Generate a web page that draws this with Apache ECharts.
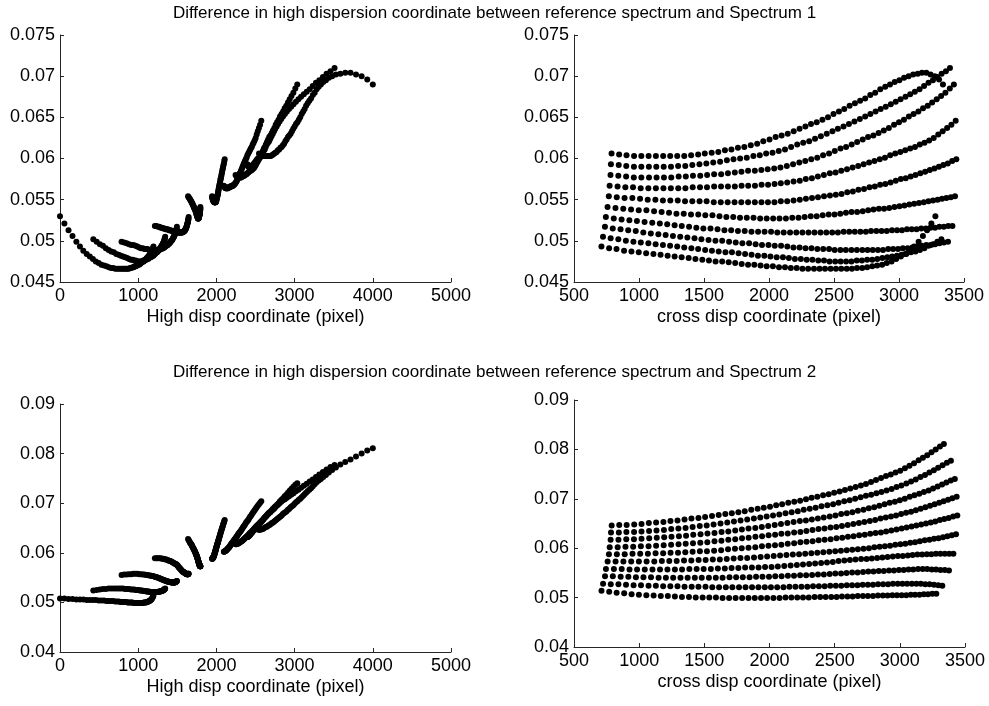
<!DOCTYPE html>
<html><head><meta charset="utf-8">
<script src="https://cdn.jsdelivr.net/npm/echarts/dist/echarts.min.js"></script>
<style>html,body{margin:0;padding:0;background:#fff}#chart{width:989px;height:706px}</style>
</head><body><div id="chart"></div>
<script>
// ---- titles and axis labels ----
const titles = [
  'Difference in high dispersion coordinate between reference spectrum and Spectrum 1',
  'Difference in high dispersion coordinate between reference spectrum and Spectrum 2'
];
const highAxisName = 'High disp coordinate (pixel)';
const crossAxisName = 'cross disp coordinate (pixel)';
const highTicks = [0, 1000, 2000, 3000, 4000, 5000];
const crossTicks = [500, 1000, 1500, 2000, 2500, 3000, 3500];
const diffTicksTop = [0.045, 0.05, 0.055, 0.06, 0.065, 0.07, 0.075];
const diffTicksBottom = [0.04, 0.05, 0.06, 0.07, 0.08, 0.09];

// ---- data: 10 sample rows (columns along the orders), one point per order ----
const crossDisp = [
[789,847,904,962,1018,1074,1130,1186,1240,1294,1348,1401,1455,1506,1559,1610,1661,1711,1761,1810,1860,1909,1956,2004,2051,2097,2144,2190,2235,2280,2323,2367,2411,2454,2496,2538,2579,2620,2661,2701,2740,2779,2817,2856,2894,2931,2967,3003,3039,3074,3109,3144,3177,3210,3243,3275,3308,3338],
[784,844,902,961,1018,1076,1133,1190,1246,1301,1356,1410,1465,1518,1571,1624,1676,1727,1778,1829,1880,1929,1978,2027,2075,2123,2170,2217,2263,2309,2354,2399,2444,2488,2530,2573,2615,2657,2699,2740,2780,2820,2859,2898,2937,2975,3012,3050,3086,3122,3158,3193,3227,3261,3294,3328,3361,3392],
[781,841,901,960,1018,1077,1135,1192,1248,1305,1360,1415,1471,1524,1578,1632,1684,1737,1788,1839,1891,1941,1990,2040,2088,2137,2185,2233,2279,2325,2371,2416,2462,2506,2550,2593,2636,2678,2721,2762,2803,2843,2883,2922,2962,3000,3038,3076,3112,3149,3185,3221,3255,3290,3324,3357,3391,3422],
[774,835,895,954,1013,1072,1130,1188,1245,1302,1357,1413,1469,1523,1578,1631,1684,1737,1789,1840,1892,1943,1993,2043,2091,2140,2189,2237,2283,2330,2376,2422,2468,2512,2556,2600,2643,2686,2728,2770,2811,2852,2892,2932,2971,3010,3048,3086,3123,3160,3196,3232,3267,3302,3336,3370,3403,3436],
[768,829,889,949,1008,1067,1126,1184,1241,1298,1354,1410,1466,1520,1575,1629,1682,1735,1787,1839,1891,1942,1992,2042,2091,2140,2189,2237,2284,2331,2377,2423,2469,2514,2558,2602,2645,2688,2731,2773,2814,2855,2895,2935,2975,3014,3052,3090,3127,3164,3201,3237,3272,3307,3341,3375,3409,3441],
[758,819,879,939,998,1057,1116,1174,1231,1288,1344,1400,1456,1510,1565,1619,1672,1725,1777,1829,1881,1932,1982,2032,2081,2130,2179,2227,2274,2321,2367,2413,2459,2504,2548,2592,2635,2678,2721,2763,2804,2845,2885,2925,2965,3004,3042,3080,3117,3154,3191,3227,3262,3297,3331,3365,3399,3431],
[745,806,866,926,984,1043,1102,1160,1217,1274,1329,1385,1441,1495,1550,1604,1657,1709,1761,1813,1865,1916,1966,2016,2064,2113,2162,2210,2257,2304,2350,2396,2441,2486,2530,2574,2617,2660,2703,2745,2785,2826,2866,2906,2946,2985,3023,3061,3098,3135,3171,3207,3242,3277,3311,3345,3379,3411],
[738,798,858,917,975,1033,1091,1149,1205,1261,1317,1372,1427,1480,1535,1588,1640,1693,1744,1795,1847,1897,1946,1996,2044,2093,2141,2188,2235,2281,2327,2372,2417,2462,2505,2549,2591,2634,2676,2718,2758,2798,2838,2877,2917,2955,2993,3030,3067,3103,3140,3176,3210,3245,3278,3312,3345,3377],
[723,782,841,899,957,1014,1072,1128,1184,1239,1294,1348,1403,1455,1509,1561,1613,1665,1715,1766,1816,1866,1915,1964,2011,2059,2107,2153,2199,2245,2290,2334,2379,2423,2466,2509,2551,2593,2634,2675,2715,2755,2794,2833,2872,2910,2947,2984,3020,3056,3092,3127,3161,3195,3228,3262,3295,3326],
[711,770,827,885,942,998,1055,1111,1166,1220,1274,1328,1382,1434,1487,1538,1589,1640,1690,1740,1790,1839,1887,1935,1982,2030,2077,2123,2168,2213,2257,2301,2346,2389,2431,2474,2515,2556,2598,2638,2677,2717,2755,2794,2832,2870,2906,2943,2978,3014,3049,3084,3117,3151,3184,3216,3249,3280]
];
const highDisp = [
[2545,2560,2575,2590,2605,2620,2635,2650,2665,2680,2695,2710,2725,2740,2755,2770,2786,2802,2818,2834,2850,2866,2882,2898,2915,2932,2949,2966,2983,3000,3018,3036,3054,3072,3091,3110,3128,3147,3167,3188,3210,3233,3257,3282,3308,3336,3366,3400,3438,3480,3528,3585,3648,3715,3785,3857,3929,4000],
[2395,2400,2404,2410,2415,2421,2428,2434,2442,2449,2457,2465,2474,2483,2492,2501,2511,2522,2532,2544,2555,2567,2579,2592,2604,2618,2631,2645,2660,2674,2689,2705,2721,2737,2753,2770,2788,2808,2829,2852,2876,2901,2928,2956,2986,3017,3049,3083,3118,3155,3193,3232,3273,3316,3362,3409,3459,3511],
[2245,2254,2262,2271,2280,2289,2298,2307,2317,2326,2336,2346,2356,2366,2376,2386,2397,2407,2418,2429,2440,2451,2462,2474,2485,2497,2508,2520,2532,2544,2557,2569,2582,2594,2607,2620,2633,2647,2661,2676,2692,2708,2724,2741,2758,2776,2795,2813,2833,2853,2873,2894,2915,2937,2960,2984,3009,3034],
[2095,2100,2105,2111,2116,2122,2127,2133,2139,2144,2150,2156,2162,2168,2175,2181,2187,2194,2200,2207,2213,2220,2227,2234,2241,2248,2255,2262,2269,2277,2284,2292,2299,2307,2315,2323,2331,2339,2348,2357,2366,2376,2386,2396,2407,2418,2429,2440,2452,2464,2476,2489,2502,2515,2529,2544,2559,2574],
[1945,1947,1949,1950,1952,1954,1956,1958,1960,1962,1964,1966,1968,1970,1972,1974,1976,1978,1980,1983,1985,1987,1989,1992,1994,1996,1999,2001,2004,2006,2009,2011,2014,2016,2019,2022,2024,2027,2030,2033,2036,2039,2043,2046,2050,2053,2057,2061,2065,2069,2073,2077,2082,2086,2091,2096,2101,2106],
[1795,1794,1794,1793,1792,1791,1790,1789,1788,1787,1786,1785,1784,1783,1781,1780,1779,1777,1776,1774,1772,1771,1769,1767,1766,1764,1762,1760,1758,1756,1754,1751,1749,1747,1745,1742,1740,1737,1734,1731,1727,1724,1720,1716,1712,1708,1703,1698,1693,1688,1683,1677,1671,1665,1659,1652,1645,1638],
[1645,1643,1641,1639,1637,1635,1632,1630,1627,1624,1621,1618,1615,1611,1608,1604,1600,1596,1592,1587,1583,1578,1574,1569,1564,1559,1553,1548,1542,1537,1531,1525,1519,1513,1506,1500,1493,1485,1477,1468,1459,1449,1439,1428,1416,1404,1392,1379,1365,1351,1336,1321,1305,1288,1271,1252,1233,1213],
[1495,1492,1489,1486,1482,1478,1474,1470,1465,1461,1456,1451,1445,1439,1434,1427,1421,1415,1408,1401,1393,1386,1378,1370,1362,1354,1345,1336,1327,1318,1308,1298,1288,1278,1268,1257,1245,1233,1219,1205,1190,1174,1157,1139,1120,1101,1080,1059,1036,1013,989,964,938,911,882,852,820,787],
[1345,1341,1337,1333,1328,1323,1318,1313,1307,1300,1294,1287,1280,1273,1265,1257,1249,1241,1232,1223,1213,1204,1194,1183,1173,1162,1150,1139,1127,1115,1103,1090,1077,1064,1050,1036,1021,1005,987,969,949,928,906,883,859,833,806,778,750,719,688,655,622,586,549,510,469,426],
[1195,1190,1185,1179,1173,1167,1160,1153,1145,1137,1129,1120,1111,1101,1091,1081,1070,1059,1048,1036,1024,1011,998,984,971,957,942,927,912,896,880,863,846,829,811,793,774,753,730,706,680,653,624,594,563,529,495,458,421,381,341,298,255,209,160,109,56,0]
];
const diffSpec1 = [
[0.0606,0.0605,0.0604,0.0603,0.0603,0.0603,0.0603,0.0603,0.0603,0.0603,0.0603,0.0604,0.0605,0.0606,0.0607,0.0608,0.0610,0.0611,0.0613,0.0614,0.0616,0.0618,0.0621,0.0623,0.0626,0.0628,0.0630,0.0633,0.0636,0.0639,0.0642,0.0644,0.0647,0.0650,0.0654,0.0657,0.0660,0.0664,0.0667,0.0670,0.0673,0.0677,0.0680,0.0684,0.0687,0.0690,0.0693,0.0695,0.0698,0.0700,0.0702,0.0703,0.0704,0.0704,0.0702,0.0700,0.0696,0.0690],
[0.0593,0.0592,0.0591,0.0590,0.0590,0.0590,0.0590,0.0590,0.0590,0.0591,0.0591,0.0592,0.0593,0.0594,0.0595,0.0596,0.0598,0.0599,0.0600,0.0601,0.0603,0.0604,0.0606,0.0607,0.0609,0.0611,0.0614,0.0617,0.0619,0.0621,0.0624,0.0627,0.0630,0.0633,0.0636,0.0639,0.0642,0.0645,0.0648,0.0651,0.0654,0.0657,0.0660,0.0663,0.0666,0.0669,0.0672,0.0675,0.0678,0.0681,0.0684,0.0688,0.0692,0.0695,0.0699,0.0703,0.0706,0.0710],
[0.0580,0.0579,0.0578,0.0577,0.0577,0.0577,0.0577,0.0577,0.0577,0.0578,0.0578,0.0579,0.0579,0.0580,0.0581,0.0581,0.0582,0.0583,0.0584,0.0585,0.0585,0.0586,0.0587,0.0588,0.0589,0.0591,0.0593,0.0595,0.0597,0.0599,0.0601,0.0604,0.0606,0.0609,0.0612,0.0614,0.0617,0.0620,0.0623,0.0626,0.0628,0.0631,0.0634,0.0637,0.0641,0.0644,0.0647,0.0651,0.0654,0.0657,0.0661,0.0664,0.0668,0.0672,0.0676,0.0680,0.0685,0.0690],
[0.0567,0.0566,0.0565,0.0565,0.0564,0.0564,0.0564,0.0564,0.0564,0.0564,0.0564,0.0565,0.0565,0.0565,0.0566,0.0566,0.0566,0.0566,0.0567,0.0567,0.0567,0.0568,0.0568,0.0569,0.0570,0.0571,0.0572,0.0573,0.0575,0.0576,0.0578,0.0580,0.0582,0.0583,0.0585,0.0587,0.0589,0.0591,0.0593,0.0595,0.0597,0.0599,0.0601,0.0604,0.0606,0.0608,0.0610,0.0612,0.0614,0.0617,0.0619,0.0622,0.0625,0.0629,0.0633,0.0637,0.0641,0.0646],
[0.0554,0.0553,0.0552,0.0552,0.0551,0.0550,0.0550,0.0549,0.0549,0.0549,0.0548,0.0548,0.0548,0.0548,0.0547,0.0547,0.0547,0.0547,0.0547,0.0547,0.0547,0.0547,0.0547,0.0547,0.0548,0.0548,0.0549,0.0550,0.0551,0.0552,0.0553,0.0554,0.0555,0.0556,0.0557,0.0559,0.0560,0.0562,0.0563,0.0565,0.0566,0.0568,0.0569,0.0571,0.0573,0.0575,0.0576,0.0578,0.0580,0.0582,0.0584,0.0586,0.0588,0.0590,0.0592,0.0594,0.0597,0.0599],
[0.0541,0.0540,0.0539,0.0538,0.0537,0.0537,0.0536,0.0535,0.0534,0.0533,0.0533,0.0532,0.0532,0.0531,0.0531,0.0530,0.0529,0.0529,0.0528,0.0528,0.0528,0.0527,0.0527,0.0527,0.0527,0.0527,0.0528,0.0528,0.0529,0.0530,0.0530,0.0531,0.0532,0.0532,0.0533,0.0534,0.0535,0.0535,0.0536,0.0537,0.0538,0.0539,0.0539,0.0540,0.0541,0.0542,0.0543,0.0544,0.0545,0.0546,0.0547,0.0548,0.0549,0.0550,0.0551,0.0552,0.0553,0.0554],
[0.0529,0.0527,0.0526,0.0525,0.0524,0.0523,0.0522,0.0521,0.0520,0.0519,0.0518,0.0517,0.0516,0.0515,0.0515,0.0514,0.0513,0.0513,0.0512,0.0512,0.0511,0.0511,0.0511,0.0511,0.0510,0.0510,0.0510,0.0510,0.0510,0.0510,0.0510,0.0510,0.0510,0.0510,0.0510,0.0511,0.0511,0.0511,0.0511,0.0511,0.0512,0.0512,0.0512,0.0512,0.0513,0.0513,0.0513,0.0514,0.0514,0.0514,0.0515,0.0515,0.0516,0.0516,0.0517,0.0517,0.0518,0.0518],
[0.0517,0.0515,0.0514,0.0513,0.0512,0.0510,0.0509,0.0508,0.0507,0.0506,0.0505,0.0504,0.0503,0.0502,0.0501,0.0500,0.0500,0.0499,0.0498,0.0497,0.0497,0.0496,0.0495,0.0495,0.0494,0.0494,0.0493,0.0492,0.0492,0.0491,0.0491,0.0490,0.0490,0.0490,0.0489,0.0489,0.0489,0.0489,0.0489,0.0489,0.0489,0.0489,0.0489,0.0489,0.0490,0.0490,0.0490,0.0491,0.0491,0.0492,0.0493,0.0494,0.0495,0.0495,0.0496,0.0497,0.0498,0.0499],
[0.0505,0.0503,0.0502,0.0500,0.0499,0.0498,0.0497,0.0496,0.0495,0.0494,0.0493,0.0492,0.0491,0.0490,0.0489,0.0488,0.0487,0.0486,0.0486,0.0485,0.0484,0.0483,0.0482,0.0482,0.0481,0.0480,0.0480,0.0479,0.0478,0.0478,0.0477,0.0477,0.0476,0.0476,0.0475,0.0475,0.0475,0.0475,0.0475,0.0476,0.0476,0.0477,0.0477,0.0478,0.0479,0.0480,0.0481,0.0482,0.0483,0.0484,0.0486,0.0487,0.0489,0.0491,0.0494,0.0496,0.0499,0.0502],
[0.0493,0.0491,0.0490,0.0488,0.0487,0.0486,0.0485,0.0484,0.0483,0.0482,0.0481,0.0480,0.0479,0.0478,0.0477,0.0476,0.0475,0.0475,0.0474,0.0473,0.0472,0.0471,0.0471,0.0470,0.0469,0.0469,0.0468,0.0468,0.0467,0.0467,0.0466,0.0466,0.0466,0.0466,0.0466,0.0466,0.0466,0.0466,0.0466,0.0466,0.0467,0.0467,0.0468,0.0469,0.0470,0.0471,0.0473,0.0475,0.0478,0.0481,0.0484,0.0488,0.0493,0.0499,0.0506,0.0513,0.0521,0.0530]
];
const diffSpec2 = [
[0.0646,0.0647,0.0647,0.0648,0.0649,0.0651,0.0652,0.0653,0.0655,0.0656,0.0658,0.0660,0.0661,0.0663,0.0665,0.0667,0.0669,0.0671,0.0673,0.0675,0.0678,0.0680,0.0682,0.0684,0.0687,0.0689,0.0692,0.0694,0.0696,0.0699,0.0702,0.0704,0.0707,0.0709,0.0712,0.0715,0.0718,0.0721,0.0724,0.0727,0.0730,0.0734,0.0738,0.0742,0.0746,0.0749,0.0753,0.0757,0.0762,0.0767,0.0772,0.0778,0.0783,0.0788,0.0794,0.0800,0.0806,0.0811],
[0.0632,0.0632,0.0633,0.0633,0.0634,0.0635,0.0636,0.0637,0.0639,0.0640,0.0641,0.0643,0.0645,0.0646,0.0648,0.0650,0.0652,0.0654,0.0656,0.0658,0.0660,0.0662,0.0664,0.0666,0.0668,0.0671,0.0673,0.0675,0.0678,0.0680,0.0682,0.0685,0.0687,0.0689,0.0692,0.0695,0.0697,0.0700,0.0703,0.0706,0.0708,0.0711,0.0714,0.0717,0.0720,0.0724,0.0727,0.0731,0.0735,0.0739,0.0744,0.0748,0.0753,0.0758,0.0763,0.0768,0.0773,0.0777],
[0.0617,0.0617,0.0618,0.0618,0.0619,0.0620,0.0621,0.0622,0.0623,0.0624,0.0625,0.0627,0.0628,0.0630,0.0631,0.0633,0.0634,0.0636,0.0638,0.0640,0.0641,0.0643,0.0645,0.0647,0.0649,0.0651,0.0653,0.0655,0.0656,0.0658,0.0660,0.0662,0.0664,0.0666,0.0669,0.0671,0.0673,0.0676,0.0678,0.0681,0.0683,0.0686,0.0689,0.0692,0.0694,0.0697,0.0700,0.0704,0.0707,0.0710,0.0714,0.0717,0.0721,0.0725,0.0729,0.0733,0.0737,0.0740],
[0.0602,0.0602,0.0603,0.0603,0.0604,0.0604,0.0605,0.0606,0.0607,0.0608,0.0609,0.0610,0.0611,0.0612,0.0614,0.0615,0.0617,0.0618,0.0620,0.0621,0.0623,0.0624,0.0626,0.0627,0.0629,0.0630,0.0632,0.0633,0.0635,0.0637,0.0639,0.0640,0.0642,0.0643,0.0645,0.0647,0.0649,0.0651,0.0653,0.0655,0.0657,0.0660,0.0662,0.0664,0.0666,0.0669,0.0672,0.0674,0.0677,0.0680,0.0683,0.0686,0.0689,0.0692,0.0695,0.0698,0.0701,0.0704],
[0.0588,0.0588,0.0588,0.0589,0.0589,0.0589,0.0590,0.0590,0.0591,0.0591,0.0592,0.0593,0.0594,0.0594,0.0595,0.0596,0.0598,0.0599,0.0600,0.0601,0.0602,0.0604,0.0605,0.0606,0.0607,0.0609,0.0610,0.0612,0.0613,0.0614,0.0616,0.0617,0.0618,0.0620,0.0621,0.0623,0.0624,0.0626,0.0627,0.0629,0.0631,0.0632,0.0634,0.0636,0.0638,0.0640,0.0642,0.0644,0.0646,0.0648,0.0650,0.0652,0.0654,0.0657,0.0659,0.0661,0.0664,0.0666],
[0.0573,0.0573,0.0573,0.0573,0.0573,0.0573,0.0573,0.0574,0.0574,0.0574,0.0575,0.0575,0.0576,0.0576,0.0577,0.0577,0.0578,0.0579,0.0580,0.0580,0.0581,0.0582,0.0583,0.0584,0.0585,0.0586,0.0587,0.0588,0.0589,0.0590,0.0591,0.0592,0.0593,0.0594,0.0595,0.0596,0.0597,0.0598,0.0599,0.0600,0.0602,0.0603,0.0604,0.0605,0.0607,0.0608,0.0609,0.0611,0.0612,0.0614,0.0616,0.0617,0.0619,0.0620,0.0622,0.0624,0.0626,0.0628],
[0.0558,0.0558,0.0558,0.0557,0.0557,0.0557,0.0557,0.0557,0.0557,0.0557,0.0557,0.0558,0.0558,0.0558,0.0558,0.0559,0.0559,0.0560,0.0560,0.0561,0.0561,0.0561,0.0562,0.0562,0.0563,0.0564,0.0565,0.0566,0.0567,0.0568,0.0569,0.0570,0.0571,0.0572,0.0574,0.0575,0.0576,0.0577,0.0578,0.0578,0.0579,0.0580,0.0581,0.0582,0.0583,0.0584,0.0584,0.0585,0.0586,0.0587,0.0587,0.0588,0.0588,0.0589,0.0589,0.0589,0.0589,0.0589],
[0.0543,0.0543,0.0542,0.0542,0.0541,0.0541,0.0541,0.0540,0.0540,0.0540,0.0540,0.0540,0.0540,0.0540,0.0540,0.0540,0.0540,0.0541,0.0541,0.0541,0.0541,0.0542,0.0542,0.0542,0.0543,0.0543,0.0544,0.0544,0.0545,0.0545,0.0546,0.0547,0.0547,0.0548,0.0549,0.0549,0.0550,0.0551,0.0551,0.0552,0.0553,0.0553,0.0554,0.0554,0.0555,0.0555,0.0556,0.0556,0.0557,0.0557,0.0558,0.0558,0.0558,0.0557,0.0557,0.0556,0.0556,0.0555],
[0.0528,0.0527,0.0527,0.0526,0.0525,0.0525,0.0524,0.0524,0.0523,0.0523,0.0523,0.0522,0.0522,0.0522,0.0522,0.0521,0.0521,0.0521,0.0521,0.0521,0.0521,0.0521,0.0521,0.0521,0.0521,0.0521,0.0521,0.0522,0.0522,0.0522,0.0522,0.0523,0.0523,0.0523,0.0524,0.0524,0.0524,0.0525,0.0525,0.0525,0.0526,0.0526,0.0526,0.0527,0.0527,0.0527,0.0528,0.0528,0.0528,0.0528,0.0528,0.0528,0.0528,0.0527,0.0527,0.0526,0.0525,0.0524],
[0.0514,0.0512,0.0510,0.0509,0.0507,0.0506,0.0505,0.0504,0.0503,0.0503,0.0502,0.0501,0.0501,0.0500,0.0500,0.0500,0.0500,0.0499,0.0499,0.0499,0.0499,0.0499,0.0499,0.0499,0.0499,0.0499,0.0499,0.0500,0.0500,0.0500,0.0500,0.0500,0.0501,0.0501,0.0501,0.0501,0.0501,0.0502,0.0502,0.0502,0.0503,0.0503,0.0503,0.0503,0.0504,0.0504,0.0504,0.0505,0.0505,0.0505,0.0505,0.0506,0.0506,0.0506,0.0507,0.0507,0.0508,0.0508]
];

// ---- build chart ----
function pairs(xs, ys) {
  const out = [];
  for (let r = 0; r < xs.length; r++) {
    const n = Math.min(xs[r].length, ys[r].length);
    for (let i = 0; i < n; i++) out.push([xs[r][i], ys[r][i]]);
  }
  return out;
}
const FONT = '"Liberation Sans", Arial, Helvetica, sans-serif';
const AX = '#262626';
function xAxisOf(grid, ticks, name) {
  return {
    gridIndex: grid, type: 'value', min: ticks[0], max: ticks[ticks.length - 1],
    interval: ticks[1] - ticks[0],
    name: name, nameLocation: 'middle', nameGap: 26,
    nameTextStyle: { fontSize: 18, color: '#000', fontFamily: FONT },
    axisLine: { onZero: false, lineStyle: { color: AX, width: 1 } },
    axisTick: { inside: true, length: 4, lineStyle: { color: AX } },
    axisLabel: { fontSize: 18, color: '#000', fontFamily: FONT, margin: 5,
      formatter: v => String(Math.round(v)) },
    splitLine: { show: false }
  };
}
function yAxisOf(grid, ticks, digits) {
  return {
    gridIndex: grid, type: 'value', min: ticks[0], max: ticks[ticks.length - 1],
    interval: +(ticks[1] - ticks[0]).toFixed(4),
    axisLine: { onZero: false, lineStyle: { color: AX, width: 1 } },
    axisTick: { inside: true, length: 4, lineStyle: { color: AX } },
    axisLabel: { fontSize: 18, color: '#000', fontFamily: FONT, margin: 5,
      formatter: v => String(+(+v).toFixed(digits)) },
    splitLine: { show: false }
  };
}
function scatter(xi, data) {
  return { type: 'scatter', xAxisIndex: xi, yAxisIndex: xi, data: data,
    symbol: 'circle', symbolSize: 6, itemStyle: { color: '#000', opacity: 1 },
    silent: true, animation: false };
}
const chart = echarts.init(document.getElementById('chart'), null, { renderer: 'canvas' });
chart.setOption({
  backgroundColor: '#fff',
  animation: false,
  title: [
    { text: titles[0], left: 'center', top: 0, textStyle: { fontSize: 17, fontWeight: 'normal', color: '#000', fontFamily: FONT } },
    { text: titles[1], left: 'center', top: 359, textStyle: { fontSize: 17, fontWeight: 'normal', color: '#000', fontFamily: FONT } }
  ],
  grid: [
    { left: 60, top: 35, width: 391, height: 247 },
    { left: 574, top: 35, width: 390, height: 247 },
    { left: 60, top: 404, width: 391, height: 248 },
    { left: 574, top: 400, width: 391, height: 247 }
  ],
  xAxis: [
    xAxisOf(0, highTicks, highAxisName),
    xAxisOf(1, crossTicks, crossAxisName),
    xAxisOf(2, highTicks, highAxisName),
    xAxisOf(3, crossTicks, crossAxisName)
  ],
  yAxis: [
    yAxisOf(0, diffTicksTop, 3),
    yAxisOf(1, diffTicksTop, 3),
    yAxisOf(2, diffTicksBottom, 2),
    yAxisOf(3, diffTicksBottom, 2)
  ],
  series: [
    scatter(0, pairs(highDisp, diffSpec1)),
    scatter(1, pairs(crossDisp, diffSpec1)),
    scatter(2, pairs(highDisp, diffSpec2)),
    scatter(3, pairs(crossDisp, diffSpec2))
  ]
});
</script>
</body></html>
